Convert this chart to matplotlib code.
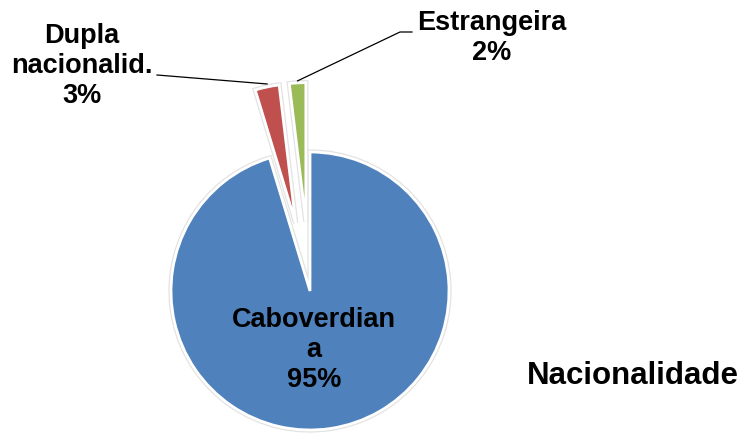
import matplotlib
matplotlib.use("Agg")
import matplotlib.pyplot as plt
import matplotlib.patheffects as pe
import numpy as np

# Data (slice angles suggest these shares,
# the labels show them rounded)
categories = ["Caboverdiana", "Dupla nacionalid.", "Estrangeira"]
label_text = ["Caboverdian\na", "Dupla\nnacionalid.", "Estrangeira"]
shares = [95.3, 2.8, 1.9]
explode = [0.0, 0.5, 0.5]  # fraction of the radius
colors = ["#4F81BD", "#C0504D", "#9BBB59"]
title = "Nacionalidade"

plt.rcParams["font.family"] = ["Liberation Sans", "DejaVu Sans"]

W, H = 744, 435
fig = plt.figure(figsize=(W / 100, H / 100), dpi=100)
ax = fig.add_axes([0, 0, 1, 1])


def py(y):
    # convert a pixel row (from top) to axes y
    return H - y


center = (310, py(292))
radius = 139

# matplotlib's explode is in data units, so scale by the radius
wedges, _ = ax.pie(
    shares,
    explode=[e * radius for e in explode],
    colors=colors,
    startangle=90,
    counterclock=False,
    center=center,
    radius=radius,
    wedgeprops=dict(edgecolor="white", linewidth=2),
    frame=True,
)
# faint grey rim like the Excel style
for w in wedges:
    w.set_path_effects([pe.Stroke(linewidth=3.8, foreground="#e3e3e3"), pe.Normal()])

ax.set_xlim(0, W)
ax.set_ylim(0, H)
ax.set_aspect("equal")
ax.axis("off")


def arc_point(w, frac=0.5):
    t = np.deg2rad(w.theta1 + frac * (w.theta2 - w.theta1))
    return w.center[0] + w.r * np.cos(t), w.center[1] + w.r * np.sin(t)


def pct(v):
    return f"{round(v)}%"


fs = 19.5
txt = dict(fontsize=fs, fontweight="bold", color="black",
           ha="center", va="center", linespacing=1.2)

# big slice label, inside
ax.text(314, py(350), f"{label_text[0]}\n{pct(shares[0])}", **txt)

# Dupla nacionalidade label with leader line
ax.text(82, py(66), f"{label_text[1]}\n{pct(shares[1])}", **txt)
x1, y1 = arc_point(wedges[1], 0.5)
ax.plot([157, x1], [py(76), y1 + 3], color="black", lw=0.9)

# Estrangeira label with elbow leader line
ax.text(492, py(38), f"{label_text[2]}\n{pct(shares[2])}", **txt)
x2, y2 = arc_point(wedges[2], 0.5)
ax.plot([x2, 400, 412], [y2 + 2, py(33), py(33)], color="black", lw=0.9)

ax.text(633, py(376), title, fontsize=22.5, fontweight="bold",
        ha="center", va="center")

fig.savefig("out.png", dpi=100)
